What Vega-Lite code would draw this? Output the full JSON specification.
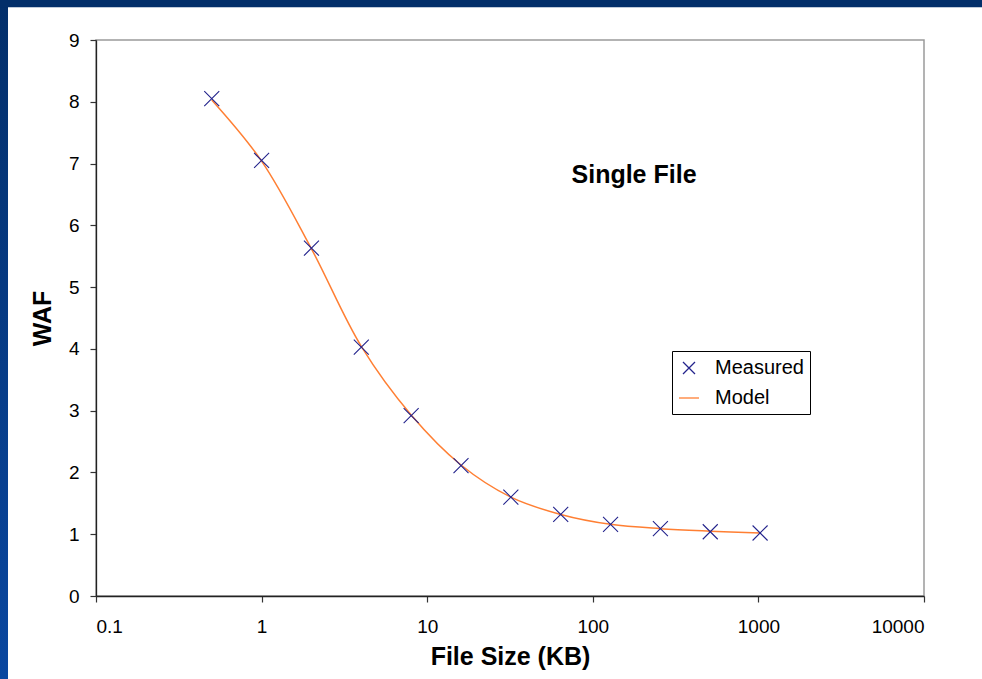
{
  "$schema": "https://vega.github.io/schema/vega-lite/v6.json",
  "width": 828,
  "height": 556,
  "autosize": {"type": "none"},
  "padding": {"left": 96, "top": 40, "right": 58, "bottom": 83},
  "background": "#ffffff",
  "config": {
    "font": "Liberation Sans",
    "view": {"stroke": "#9a9a9a", "strokeWidth": 1.5},
    "axis": {
      "grid": false,
      "domainColor": "#222222",
      "domainWidth": 1.3,
      "tickColor": "#333333",
      "tickWidth": 1.2,
      "tickSize": 6,
      "labelFont": "Liberation Sans",
      "labelFontSize": 19,
      "labelColor": "#000000",
      "titleFont": "Liberation Sans",
      "titleFontSize": 25,
      "titleFontWeight": "bold",
      "titleColor": "#000000",
      "zindex": 1
    },
    "legend": {
      "labelFont": "Liberation Sans",
      "labelFontSize": 20,
      "labelColor": "#000000"
    }
  },
  "datasets": {
    "waf": [
      {"size": 0.5, "waf": 8.05, "series": "Measured"},
      {"size": 1, "waf": 7.05, "series": "Measured"},
      {"size": 2, "waf": 5.63, "series": "Measured"},
      {"size": 4, "waf": 4.03, "series": "Measured"},
      {"size": 8, "waf": 2.92, "series": "Measured"},
      {"size": 16, "waf": 2.11, "series": "Measured"},
      {"size": 32, "waf": 1.6, "series": "Measured"},
      {"size": 64, "waf": 1.32, "series": "Measured"},
      {"size": 128, "waf": 1.16, "series": "Measured"},
      {"size": 256, "waf": 1.09, "series": "Measured"},
      {"size": 512, "waf": 1.04, "series": "Measured"},
      {"size": 1024, "waf": 1.02, "series": "Measured"},
      {"size": 0.5, "waf": 8.03, "series": "Model"},
      {"size": 1, "waf": 7.04, "series": "Model"},
      {"size": 2, "waf": 5.62, "series": "Model"},
      {"size": 4, "waf": 4.04, "series": "Model"},
      {"size": 8, "waf": 2.93, "series": "Model"},
      {"size": 16, "waf": 2.12, "series": "Model"},
      {"size": 32, "waf": 1.6, "series": "Model"},
      {"size": 64, "waf": 1.32, "series": "Model"},
      {"size": 128, "waf": 1.16, "series": "Model"},
      {"size": 256, "waf": 1.09, "series": "Model"},
      {"size": 512, "waf": 1.05, "series": "Model"},
      {"size": 1024, "waf": 1.02, "series": "Model"}
    ]
  },
  "layer": [
    {
      "data": {"values": [{"part": "left"}]},
      "mark": {
        "type": "rect",
        "fill": {
          "gradient": "linear",
          "x1": 0, "y1": 0, "x2": 0, "y2": 1,
          "stops": [
            {"offset": 0, "color": "#032f6a"},
            {"offset": 1, "color": "#0a47a0"}
          ]
        }
      },
      "encoding": {
        "x": {"datum": 0.0001, "type": "quantitative"},
        "x2": {"datum": 0.02942},
        "y": {"datum": 9.66, "type": "quantitative"},
        "y2": {"datum": -1.36}
      }
    },
    {
      "data": {"values": [{"part": "top"}]},
      "mark": {"type": "rect", "fill": "#032f6a"},
      "encoding": {
        "x": {"datum": 0.0001, "type": "quantitative"},
        "x2": {"datum": 100000},
        "y": {"datum": 9.531, "type": "quantitative"},
        "y2": {"datum": 9.7}
      }
    },
    {
      "data": {"name": "waf"},
      "transform": [{"filter": "datum.series == 'Model'"}],
      "mark": {"type": "line", "interpolate": "catmull-rom", "strokeWidth": 1.5},
      "encoding": {
        "x": {
          "field": "size", "type": "quantitative",
          "scale": {"type": "log", "domain": [0.1, 10000], "nice": false},
          "axis": {"values": [0.1, 1, 10, 100, 1000, 10000], "format": "~g", "title": "File Size (KB)", "labelPadding": 15, "titlePadding": 8}
        },
        "y": {
          "field": "waf", "type": "quantitative",
          "scale": {"domain": [0, 9], "nice": false, "zero": true},
          "axis": {"values": [0, 1, 2, 3, 4, 5, 6, 7, 8, 9], "format": "d", "title": "WAF", "labelPadding": 11, "titlePadding": 13}
        },
        "color": {
          "field": "series", "type": "nominal",
          "scale": {"domain": ["Measured", "Model"], "range": ["#23238c", "#ff7f33"]},
          "legend": {
            "title": null, "orient": "none", "legendX": 576, "legendY": 311,
            "strokeColor": "#000000", "fillColor": "#ffffff", "padding": 6,
            "labelOffset": 15, "rowPadding": 9, "symbolSize": 400, "symbolStrokeWidth": 1.3
          }
        }
      }
    },
    {
      "data": {"name": "waf"},
      "transform": [{"filter": "datum.series == 'Measured'"}],
      "mark": {"type": "point", "filled": false, "size": 625, "strokeWidth": 1.1, "opacity": 1},
      "encoding": {
        "x": {"field": "size", "type": "quantitative"},
        "y": {"field": "waf", "type": "quantitative"},
        "color": {
          "field": "series", "type": "nominal",
          "legend": {
            "title": null, "orient": "none", "legendX": 576, "legendY": 311,
            "strokeColor": "#000000", "fillColor": "#ffffff", "padding": 6,
            "labelOffset": 15, "rowPadding": 9, "symbolSize": 400, "symbolStrokeWidth": 1.3
          }
        },
        "shape": {
          "field": "series", "type": "nominal",
          "scale": {"domain": ["Measured", "Model"], "range": ["M-0.6,-0.6L0.6,0.6M-0.6,0.6L0.6,-0.6", "stroke"]},
          "legend": {
            "title": null, "orient": "none", "legendX": 576, "legendY": 311,
            "strokeColor": "#000000", "fillColor": "#ffffff", "padding": 6,
            "labelOffset": 15, "rowPadding": 9, "symbolSize": 400, "symbolStrokeWidth": 1.3
          }
        }
      }
    },
    {
      "data": {"values": [{"label": "Single File", "size": 177.4, "waf": 6.68}]},
      "mark": {"type": "text", "align": "center", "baseline": "alphabetic", "fontSize": 25, "fontWeight": "bold", "font": "Liberation Sans", "color": "#000000"},
      "encoding": {
        "x": {"field": "size", "type": "quantitative"},
        "y": {"field": "waf", "type": "quantitative"},
        "text": {"field": "label"}
      }
    }
  ]
}
